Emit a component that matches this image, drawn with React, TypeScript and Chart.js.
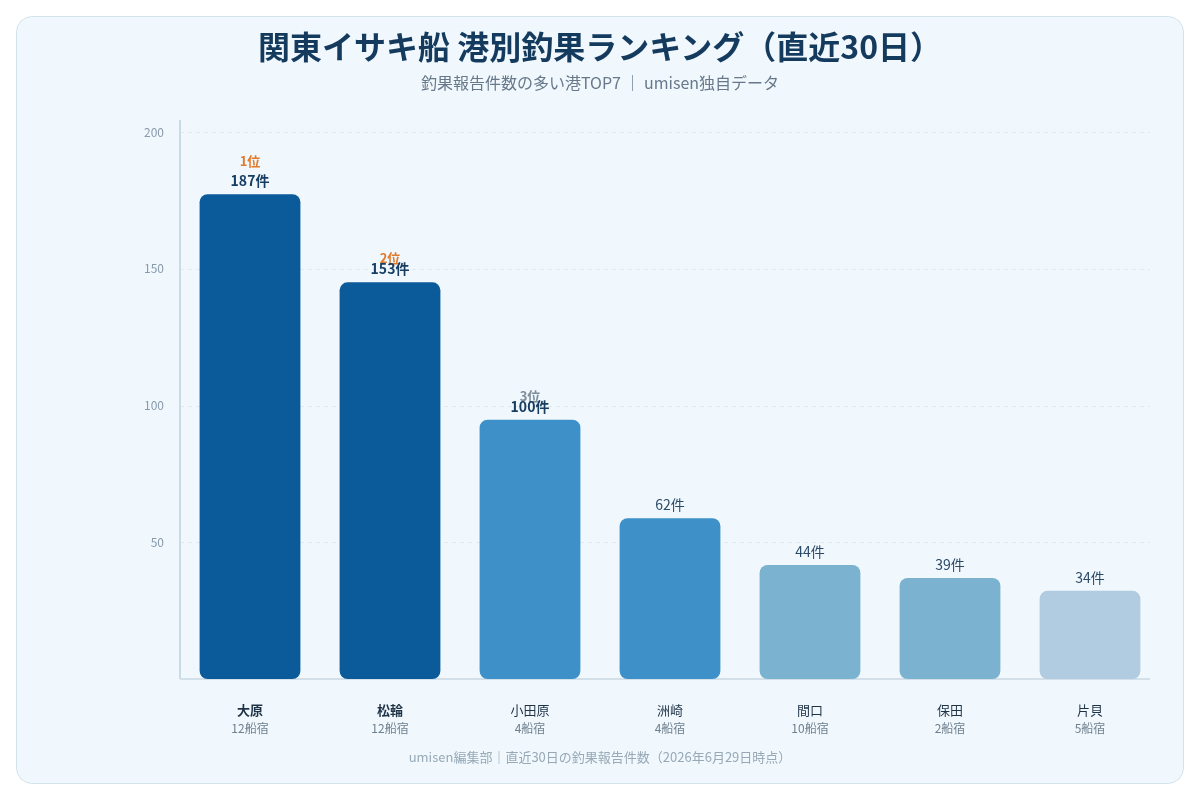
import React, { useEffect, useRef } from "react";
import { Chart, registerables } from "chart.js";

Chart.register(...registerables);

const ports = ["大原", "松輪", "小田原", "洲崎", "間口", "保田", "片貝"];
const shipCounts = ["12船宿", "12船宿", "4船宿", "4船宿", "10船宿", "2船宿", "5船宿"];
const reports = [187, 153, 100, 62, 44, 39, 34];
const ranks = ["1位", "2位", "3位", "", "", "", ""];
const yTickLabels = ["", "50", "100", "150", "200"];
const yMax = 211;
const barColors = ["#0b5a99", "#0b5a99", "#3d91c8", "#3d91c8", "#7ab2d0", "#7ab2d0", "#b1cce0"];

const FONT = "'Noto Sans CJK JP', 'Noto Sans', sans-serif";

const gridPlugin = {
  id: "customGrid",
  beforeDatasetsDraw(chart: any) {
    const ctx = chart.ctx;
    const a = chart.chartArea;
    const y = chart.scales.y;
    const right = a.right - 10;
    ctx.save();
    ctx.strokeStyle = "#e0ebf1";
    ctx.lineWidth = 1;
    ctx.setLineDash([4, 4]);
    y.ticks.forEach((t: any, i: number) => {
      if (i === 0) return;
      const py = Math.round(y.getPixelForValue(t.value)) + 0.5;
      ctx.beginPath();
      ctx.moveTo(a.left, py);
      ctx.lineTo(right, py);
      ctx.stroke();
    });
    ctx.setLineDash([]);
    ctx.strokeStyle = "#d3e0ea";
    ctx.lineWidth = 2;
    ctx.beginPath();
    ctx.moveTo(a.left, a.bottom);
    ctx.lineTo(right, a.bottom);
    ctx.stroke();
    ctx.strokeStyle = "#c9dbe6";
    ctx.beginPath();
    ctx.moveTo(a.left, a.top - 12);
    ctx.lineTo(a.left, a.bottom);
    ctx.stroke();
    ctx.restore();
  },
};

const labelPlugin = {
  id: "customLabels",
  afterDatasetsDraw(chart: any) {
    const ctx = chart.ctx;
    const meta = chart.getDatasetMeta(0);
    const xScale = chart.scales.x;
    const area = chart.chartArea;
    ctx.save();
    ctx.textAlign = "center";
    meta.data.forEach((bar: any, i: number) => {
      const top = bar.y;
      const x = bar.x;
      ctx.textBaseline = "alphabetic";
      if (ranks[i]) {
        const off = i === 0 ? 20 : 11;
        ctx.font = "bold 13px " + FONT;
        ctx.fillStyle = i < 2 ? "#e07a2c" : "#7d8d9c";
        ctx.fillText(ranks[i], x, top - 8 - off);
      }
      ctx.font = (i < 3 ? "bold " : "") + "14px " + FONT;
      ctx.fillStyle = i < 3 ? "#173d63" : "#2b4a68";
      ctx.fillText(reports[i] + "件", x, top - 8);
    });
    ports.forEach((p, i) => {
      const x = xScale.getPixelForValue(i);
      ctx.textBaseline = "middle";
      ctx.font = (i < 2 ? "bold " : "") + "13px " + FONT;
      ctx.fillStyle = "#1f3347";
      ctx.fillText(p, x, area.bottom + 31);
      ctx.font = "12px " + FONT;
      ctx.fillStyle = "#6e7f8e";
      ctx.fillText(shipCounts[i], x, area.bottom + 49);
    });
    ctx.restore();
  },
};

export default function App() {
  const ref = useRef<HTMLCanvasElement | null>(null);
  useEffect(() => {
    if (!ref.current) return;
    const chart = new Chart(ref.current, {
      type: "bar",
      data: {
        labels: ports,
        datasets: [
          {
            data: reports,
            backgroundColor: barColors,
            borderRadius: 8,
            borderSkipped: false,
          },
        ],
      },
      options: {
        animation: false,
        responsive: false,
        maintainAspectRatio: false,
        layout: { padding: { top: 115, right: 23, left: 0, bottom: 0 } },
        plugins: {
          legend: { display: false },
          tooltip: { enabled: false },
          title: { display: false },
        },
        scales: {
          x: {
            grid: { display: false },
            border: { display: false },
            ticks: { display: false },
            afterFit: (s: any) => {
              s.height = 104;
            },
          },
          y: {
            min: 0,
            max: yMax,
            grid: { display: false, drawTicks: false },
            border: { display: false },
            ticks: {
              count: 5,
              padding: 16,
              color: "#8799aa",
              font: { family: FONT, size: 12 },
              callback: (_v: any, i: number) => yTickLabels[i],
            },
            afterFit: (s: any) => {
              s.width = 163;
            },
          },
        },
      },
      plugins: [gridPlugin, labelPlugin],
    });
    return () => chart.destroy();
  }, []);

  return (
    <div
      style={{
        position: "relative",
        width: 1168,
        height: 768,
        margin: 8,
        boxSizing: "border-box",
        border: "1px solid #d5e3eb",
        borderRadius: 16,
        background: "#f0f8fd",
        fontFamily: FONT,
        overflow: "hidden",
      }}
    >
      <canvas
        ref={ref}
        width={1166}
        height={766}
        style={{ position: "absolute", left: 0, top: 0, width: 1166, height: 766 }}
      />
      <div
        style={{
          position: "absolute",
          left: 0,
          right: 0,
          top: 8,
          textAlign: "center",
          fontSize: 32,
          fontWeight: 700,
          color: "#143a5e",
          lineHeight: "40px",
        }}
      >
        関東イサキ船 港別釣果ランキング（直近30日）
      </div>
      <div
        style={{
          position: "absolute",
          left: 0,
          right: 0,
          top: 54,
          textAlign: "center",
          fontSize: 16,
          color: "#66788a",
          lineHeight: "22px",
        }}
      >
        釣果報告件数の多い港TOP7 ｜ umisen独自データ
      </div>
      <div
        style={{
          position: "absolute",
          left: 0,
          right: 0,
          top: 730,
          textAlign: "center",
          fontSize: 13,
          color: "#97a8b6",
          lineHeight: "20px",
        }}
      >
        umisen編集部｜直近30日の釣果報告件数（2026年6月29日時点）
      </div>
    </div>
  );
}
